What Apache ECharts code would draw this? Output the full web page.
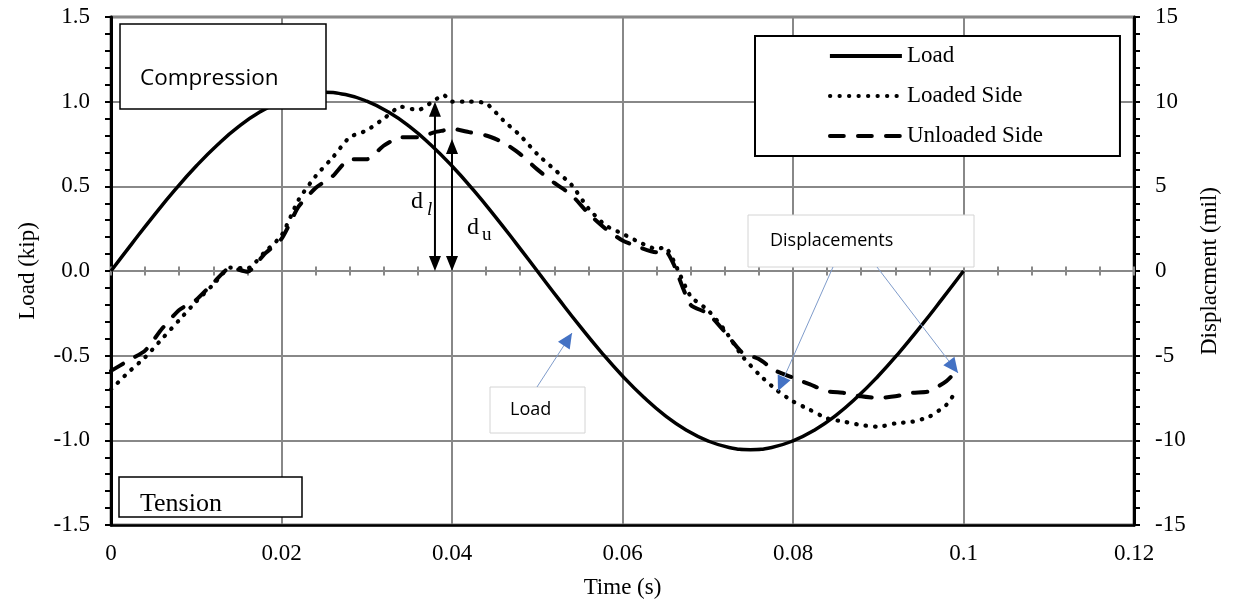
<!DOCTYPE html>
<html><head><meta charset="utf-8">
<script src="https://cdn.jsdelivr.net/npm/echarts@6/dist/echarts.min.js"></script>
<style>html,body{margin:0;padding:0;background:#fff}#c{width:1236px;height:604px}</style>
</head><body><div id="c"></div>
<script>
// ---- data ----
const loadTime = [0,0.0025,0.005,0.0075,0.01,0.0125,0.015,0.0175,0.02,0.0225,0.025,0.0275,0.03,0.0325,0.035,0.0375,0.04,0.0425,0.045,0.0475,0.05,0.0525,0.055,0.0575,0.06,0.0625,0.065,0.0675,0.07,0.0725,0.075,0.0775,0.08,0.0825,0.085,0.0875,0.09,0.0925,0.095,0.0975,0.1];
const loadKip = [0,0.165,0.326,0.479,0.620,0.746,0.854,0.940,1.003,1.042,1.055,1.042,1.003,0.940,0.854,0.746,0.620,0.479,0.326,0.165,0,-0.165,-0.326,-0.479,-0.620,-0.746,-0.854,-0.940,-1.003,-1.042,-1.055,-1.042,-1.003,-0.940,-0.854,-0.746,-0.620,-0.479,-0.326,-0.165,0];
const dispTime = [0,0.002,0.004,0.006,0.008,0.010,0.012,0.014,0.016,0.018,0.020,0.022,0.024,0.026,0.028,0.030,0.032,0.034,0.036,0.038,0.039,0.040,0.042,0.044,0.046,0.048,0.050,0.052,0.054,0.056,0.058,0.060,0.062,0.064,0.065,0.066,0.068,0.070,0.072,0.074,0.076,0.078,0.080,0.082,0.084,0.086,0.088,0.090,0.092,0.094,0.096,0.098,0.099];
const loadedSide = [-7.0,-6.0,-5.1,-4.0,-2.9,-1.8,-0.8,0.2,0.15,1.1,2.1,4.2,5.6,6.7,7.9,8.3,9.0,9.7,9.5,10.1,10.4,10.0,10.0,9.9,8.9,8.0,6.9,6.0,5.1,3.7,2.7,2.2,1.7,1.3,1.4,0.6,-1.5,-2.3,-3.5,-5.0,-6.1,-7.0,-7.7,-8.2,-8.7,-8.9,-9.1,-9.2,-9.0,-8.9,-8.6,-7.9,-7.2];
const unloadedSide = [-5.9,-5.3,-4.7,-3.4,-2.3,-1.7,-0.7,0.2,-0.05,1.0,1.9,3.8,4.9,5.6,6.6,6.6,7.4,7.9,7.9,8.2,8.3,8.4,8.2,8.0,7.6,6.9,6.0,5.2,4.5,3.4,2.5,1.8,1.4,1.1,1.2,0.4,-2.0,-2.5,-3.6,-4.8,-5.2,-5.9,-6.3,-6.7,-7.1,-7.2,-7.4,-7.5,-7.4,-7.2,-7.1,-6.5,-6.0];
const seriesNames = ['Load','Loaded Side','Unloaded Side'];
// displacement arrows d_l and d_u: [time, top value in mil]
const dlArrow = [0.038, 10.0];
const duArrow = [0.040, 7.8];

const GRID = '#888';
const SERIF = 'Liberation Serif';
const SANS = 'Open Sans';

const chart = echarts.init(document.getElementById('c'), null, {renderer:'canvas'});

const zeroAxisBase = {
  type:'value', min:0, max:0.12, interval:0.02, position:'bottom',
  axisLine:{show:false, onZero:true, onZeroAxisIndex:0},
  axisLabel:{show:false}, splitLine:{show:false},
  axisTick:{show:true, length:4.5, lineStyle:{color:GRID, width:2}},
  minorTick:{show:true, splitNumber:5, length:4.5, lineStyle:{color:GRID, width:2}}
};

const option = {
  backgroundColor:'#fff',
  animation:false,
  grid:{left:111, right:102, top:17, bottom:78, show:true, borderColor:'#000', borderWidth:2.5, backgroundColor:'transparent'},
  legend:{
    orient:'vertical', left:755, top:36,
    padding:[8.5,77,8.5,73],
    itemWidth:72, itemHeight:14, itemGap:17,
    backgroundColor:'#fff', borderColor:'#000', borderWidth:2,
    itemStyle:{opacity:0},
    lineStyle:{width:3.8},
    textStyle:{fontFamily:SERIF, fontSize:23, color:'#000'},
    data:seriesNames
  },
  xAxis:[
    {type:'value', min:0, max:0.12, interval:0.02, position:'bottom',
     name:'Time (s)', nameLocation:'middle', nameGap:51,
     nameTextStyle:{fontFamily:SERIF, fontSize:23, color:'#000'},
     axisLine:{show:true, onZero:false, lineStyle:{color:'#000', width:2.5}},
     axisTick:{show:false},
     axisLabel:{margin:17, fontFamily:SERIF, fontSize:23, color:'#000'},
     splitLine:{show:true, lineStyle:{color:GRID, width:2}}},
    Object.assign({}, zeroAxisBase, {axisLine:{show:true, onZero:true, onZeroAxisIndex:0, lineStyle:{color:GRID, width:2}}, axisTick:Object.assign({}, zeroAxisBase.axisTick, {inside:true}), minorTick:Object.assign({}, zeroAxisBase.minorTick)}),
    Object.assign({}, zeroAxisBase, {axisTick:Object.assign({}, zeroAxisBase.axisTick, {inside:false})})
  ],
  yAxis:[
    {type:'value', min:-1.5, max:1.5, interval:0.5, position:'left',
     name:'Load (kip)', nameLocation:'middle', nameGap:72, nameRotate:90,
     nameTextStyle:{fontFamily:SERIF, fontSize:23, color:'#000'},
     axisLine:{show:true, onZero:false, lineStyle:{color:'#000', width:3}},
     axisTick:{show:true, length:6, lineStyle:{color:'#000', width:2}},
     minorTick:{show:true, splitNumber:5, length:6, lineStyle:{color:'#000', width:2}},
     axisLabel:{margin:21, fontFamily:SERIF, fontSize:23, color:'#000', formatter:v=>v.toFixed(1)},
     splitLine:{show:true, lineStyle:{color:GRID, width:2}}},
    {type:'value', min:-15, max:15, interval:5, position:'right',
     name:'Displacment (mil)', nameLocation:'middle', nameGap:64, nameRotate:90,
     nameTextStyle:{fontFamily:SERIF, fontSize:23, color:'#000'},
     axisLine:{show:true, onZero:false, lineStyle:{color:'#000', width:3}},
     axisTick:{show:true, length:6, lineStyle:{color:'#000', width:2}},
     minorTick:{show:true, splitNumber:5, length:6, lineStyle:{color:'#000', width:2}},
     axisLabel:{margin:21, fontFamily:SERIF, fontSize:23, color:'#000'},
     splitLine:{show:false}}
  ],
  series:[
    {name:seriesNames[0], type:'line', xAxisIndex:0, yAxisIndex:0, symbol:'none', smooth:true,
     data:loadTime.map((t,i)=>[t, loadKip[i]]),
     lineStyle:{color:'#000', width:3.5}, itemStyle:{color:'#000'}, z:5},
    {name:seriesNames[1], type:'line', xAxisIndex:0, yAxisIndex:1, symbol:'none', smooth:0.2,
     data:dispTime.map((t,i)=>[t, loadedSide[i]]),
     lineStyle:{color:'#000', width:4.2, type:[0.5,9], cap:'round', join:'round'}, itemStyle:{color:'#000'}, z:4},
    {name:seriesNames[2], type:'line', xAxisIndex:0, yAxisIndex:1, symbol:'none', smooth:0.2,
     data:dispTime.map((t,i)=>[t, unloadedSide[i]]),
     lineStyle:{color:'#000', width:4, type:[14,14], cap:'round', join:'round'}, itemStyle:{color:'#000'}, z:3}
  ]
};
chart.setOption(option);

// ---- annotations ----
function head(x0,y0,x1,y1,len,w){
  const dx=x1-x0, dy=y1-y0, L=Math.hypot(dx,dy), ux=dx/L, uy=dy/L;
  const bx=x1-ux*len, by=y1-uy*len;
  return [[x1,y1],[bx-uy*w/2, by+ux*w/2],[bx+uy*w/2, by-ux*w/2]];
}
function blueArrow(x0,y0,x1,y1){
  const h = head(x0,y0,x1,y1,15,14);
  return [
    {type:'line', z:60, shape:{x1:x0,y1:y0,x2:x1,y2:y1}, style:{stroke:'#7f9ccb', lineWidth:1}},
    {type:'polygon', z:61, shape:{points:h}, style:{fill:'#4472c4'}}
  ];
}
function blackDoubleArrow(top, bottom){
  const [x, yt] = top, yb = bottom[1];
  return [
    {type:'line', z:60, shape:{x1:x, y1:yt+12, x2:x, y2:yb-12}, style:{stroke:'#000', lineWidth:2}},
    {type:'polygon', z:61, shape:{points:head(x,yb,x,yt,15,12)}, style:{fill:'#000'}},
    {type:'polygon', z:61, shape:{points:head(x,yt,x,yb,15,12)}, style:{fill:'#000'}}
  ];
}
const px = (t,v) => chart.convertToPixel({seriesIndex:1}, [t,v]);
const dlTop = px(dlArrow[0], dlArrow[1]), dlBot = px(dlArrow[0], 0);
const duTop = px(duArrow[0], duArrow[1]), duBot = px(duArrow[0], 0);

const boxText = (x,y,w,h,stroke,lw) => ({type:'rect', z:50, shape:{x:x,y:y,width:w,height:h}, style:{fill:'#fff', stroke:stroke, lineWidth:lw}});
const txt = (x,y,s,font,size,extra) => ({type:'text', z:55, x:x, y:y, style:Object.assign({text:s, fontFamily:font, fontSize:size, fill:'#000', verticalAlign:'middle', align:'left'}, extra||{})});

const elements = [
  boxText(120,24,206,85,'#000',1.5),
  txt(140,79,'Compression',SANS,22.5),
  boxText(119,477,183,40,'#000',1.5),
  txt(140,504,'Tension',SERIF,26),
  boxText(748,215,226,52,'#d4d4d4',1),
  txt(770,241,'Displacements',SANS,18),
  boxText(490,387,95,46,'#d4d4d4',1),
  txt(510,410,'Load',SANS,18),
  ...blueArrow(537,387,572,333),
  ...blueArrow(833,267,778,391),
  ...blueArrow(877,267,958,373),
  ...blackDoubleArrow(dlTop, dlBot),
  ...blackDoubleArrow(duTop, duBot),
  txt(dlTop[0]-24, 202, 'd', SERIF, 24),
  txt(dlTop[0]-8, 209.5, 'l', SERIF, 19, {fontStyle:'italic'}),
  txt(duTop[0]+15, 228, 'd', SERIF, 24),
  txt(duTop[0]+30, 235.5, 'u', SERIF, 19)
];
chart.setOption({graphic:{elements:elements}});
</script>
</body></html>
